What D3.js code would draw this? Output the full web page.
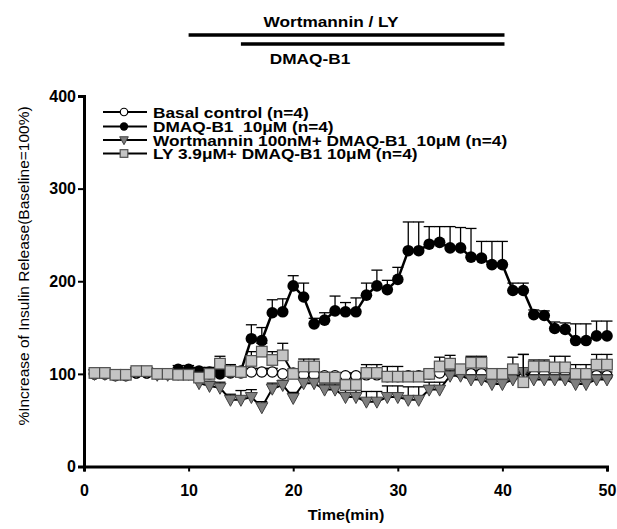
<!DOCTYPE html>
<html>
<head>
<meta charset="utf-8">
<script src="https://cdn.jsdelivr.net/npm/d3@7"></script>
<style>
body { margin:0; background:#fff; }
text { font-family:"Liberation Sans", Arial, sans-serif; white-space:pre; }
</style>
</head>
<body>
<div id="drawing"></div>
<script>
"use strict"

/**** CONFIGURATION ****/

let svgWidth = 617
let svgHeight = 529

let plotLeft = 84
let plotRight = 607
let plotTop = 96
let plotBottom = 466.5

// the labels in the source picture are drawn a bit wider than the font
let stretch = 1.15


/**** DATA ****/

let times = [1,2,3,4,5,6,7,8,9,10,11,12,13,14,15,16,17,18,19,20,21,22,23,24,25,
26,27,28,29,30,31,32,33,34,35,36,37,38,39,40,41,42,43,44,45,46,47,48,49,50]

let xTicks = [0,10,20,30,40,50]
let yTicks = [0,100,200,300,400]

let basal = [100,100,99,99,101,101,100,100,100,100,101,100,101,101,101,102,102,102,100,101,
99,99,98,98,98,98,99,99,97,97,98,98,100,101,102,101,100,100,98,98,
98,98,99,99,98,98,97,97,98,98]
let basalErr = [2,2,2,2,2,2,2,2,2,2,3,3,3,3,3,4,4,4,3,3,
3,3,3,3,3,3,4,4,4,4,4,4,4,4,4,4,4,4,4,4,
4,4,4,4,4,4,4,4,4,4]

let dmaq = [100,100,98,98,101,101,100,100,105,105,103,102,100,102,103,138,136,166,167,195,
183,154,158,168,167,167,185,195,191,202,233,233,240,242,236,236,226,225,218,218,
190,190,164,163,149,148,136,136,141,141]
let dmaqErr = [2,2,2,2,3,3,3,3,4,4,4,5,5,4,4,15,14,14,14,11,
15,6,8,16,10,15,13,17,10,13,31,31,19,17,23,22,31,18,25,25,
8,8,5,5,7,7,18,18,16,16]

let wort = [100,100,99,99,102,102,99,99,100,100,90,87,85,72,72,75,64,84,88,74,
90,90,83,83,75,75,70,70,75,75,72,72,83,83,98,98,94,94,89,89,
94,102,94,94,94,94,89,89,94,94]
let wortErr = [2,2,2,2,2,2,2,2,2,2,6,5,6,6,10,8,6,6,5,6,
5,5,6,6,7,7,11,11,12,12,14,14,8,8,6,6,5,5,6,6,
6,19,5,5,5,5,6,6,5,5]

let ly = [101,101,99,99,103,103,100,100,99,99,96,100,111,103,102,114,124,115,120,100,
108,108,96,96,88,88,101,101,97,97,97,97,100,108,111,105,112,112,100,100,
105,91,108,108,107,107,100,100,110,110]
let lyErr = [3,3,3,3,3,3,3,3,3,3,3,3,8,7,4,10,9,9,13,5,
8,8,4,4,6,6,9,9,11,11,3,3,5,10,9,5,7,7,4,4,
13,30,7,7,12,12,10,10,11,11]

let legendLabels = [
"Basal control (n=4)",
"DMAQ-B1  10\u03bcM (n=4)",
"Wortmannin 100nM+ DMAQ-B1  10\u03bcM (n=4)",
"LY 3.9\u03bcM+ DMAQ-B1 10\u03bcM (n=4)"
]


/**** CANVAS SETUP ****/

let svg = d3.select("#drawing")
.append("svg")
.attr("width", svgWidth)
.attr("height", svgHeight)


/**** SCALES ****/

let xScale = d3.scaleLinear()
.domain([0,50])
.range([plotLeft, plotRight])

let yScale = d3.scaleLinear()
.domain([0,400])
.range([plotBottom, plotTop])


/**** AXES ****/

svg.append("g")
.attr("transform", "translate(0," + plotBottom + ")")
.call(d3.axisBottom(xScale).tickValues(xTicks).tickSize(5).tickPadding(13))

svg.append("g")
.attr("transform", "translate(" + plotLeft + ",0)")
.call(d3.axisLeft(yScale).tickValues(yTicks).tickSize(6).tickPadding(2))

svg.selectAll(".domain").attr("stroke","black").attr("stroke-width",3)
svg.selectAll(".tick line").attr("stroke","black").attr("stroke-width",2)
svg.selectAll(".tick text").attr("fill","black")
.style("font-size","16px").style("font-weight","bold")
.style("font-family","'Liberation Sans', Arial, sans-serif")


/**** STRETCHED LABELS ****/

function wideText(x, y, size, anchor, label){
    return svg.append("text")
    .attr("transform","translate(" + x + "," + y + ") scale(" + stretch + ",1)")
    .attr("xml:space","preserve")
    .style("text-anchor",anchor)
    .style("font-size",size + "px")
    .style("font-weight","bold")
    .text(label)
}

wideText(346, 520, 14, "middle", "Time(min)")

svg.append("text")
.attr("transform","rotate(-90)")
.attr("x",-266)
.attr("y",29)
.style("text-anchor","middle")
.style("font-size","15.5px")
.text("%Increase of Insulin Release(Baseline=100%)")


/**** TREATMENT BARS ****/

svg.append("line")
.attr("x1",xScale(10)).attr("x2",xScale(40.2))
.attr("y1",35).attr("y2",35)
.attr("stroke","black").attr("stroke-width",3.5)

svg.append("line")
.attr("x1",xScale(15)).attr("x2",xScale(40.2))
.attr("y1",44).attr("y2",44)
.attr("stroke","black").attr("stroke-width",3.5)

wideText(331, 27, 15, "middle", "Wortmannin / LY")
wideText(310, 64, 15, "middle", "DMAQ-B1")


/**** SERIES ****/

let series = [
{values:basal, err:basalErr, shape:"openCircle"},
{values:dmaq, err:dmaqErr, shape:"circle"},
{values:wort, err:wortErr, shape:"triangle"},
{values:ly, err:lyErr, shape:"square"}
]

function drawMarker(g, shape, cx, cy, k){
    if(shape=="openCircle"){
        g.append("circle").attr("cx",cx).attr("cy",cy).attr("r",5.2*k)
        .attr("fill","white").attr("stroke","black").attr("stroke-width",1.2)
    }else if(shape=="circle"){
        g.append("circle").attr("cx",cx).attr("cy",cy).attr("r",5.8*k)
        .attr("fill","black")
    }else if(shape=="triangle"){
        g.append("path")
        .attr("d","M" + (cx-6*k) + "," + (cy-4.5*k) + "L" + (cx+6*k) + "," + (cy-4.5*k) + "L" + cx + "," + (cy+6.5*k) + "Z")
        .attr("fill","#7f7f7f").attr("stroke","#404040").attr("stroke-width",1)
    }else{
        g.append("rect").attr("x",cx-5.3*k).attr("y",cy-5.3*k).attr("width",10.6*k).attr("height",10.6*k)
        .attr("fill","#c4c4c4").attr("stroke","#505050").attr("stroke-width",1.2)
    }
}

let line = d3.line()
.x((d,i)=>xScale(times[i]))
.y(d=>yScale(d))

series.forEach(function(s){

    let g = svg.append("g")

    // error bars, upper side only
    s.values.forEach(function(v,i){
        let x = xScale(times[i])
        let top = yScale(v + s.err[i])
        g.append("line").attr("x1",x).attr("x2",x)
        .attr("y1",yScale(v)).attr("y2",top)
        .attr("stroke","black").attr("stroke-width",1.3)
        g.append("line").attr("x1",x-5.5).attr("x2",x+5.5)
        .attr("y1",top).attr("y2",top)
        .attr("stroke","black").attr("stroke-width",1.3)
    })

    g.append("path")
    .datum(s.values)
    .attr("d",line)
    .attr("fill","none")
    .attr("stroke","black")
    .attr("stroke-width",s.shape=="circle" ? 2.5 : 2)

    s.values.forEach(function(v,i){
        drawMarker(g, s.shape, xScale(times[i]), yScale(v), 1)
    })
})


/**** LEGEND ****/

let legendY = [112,126.5,140,153.5]

series.forEach(function(s,i){
    svg.append("line")
    .attr("x1",103).attr("x2",147)
    .attr("y1",legendY[i]).attr("y2",legendY[i])
    .attr("stroke","black").attr("stroke-width",2)
    drawMarker(svg, s.shape, 124, legendY[i], 0.72)
    wideText(153, legendY[i]+5.5, 15, "start", legendLabels[i])
})
</script>
</body>
</html>
